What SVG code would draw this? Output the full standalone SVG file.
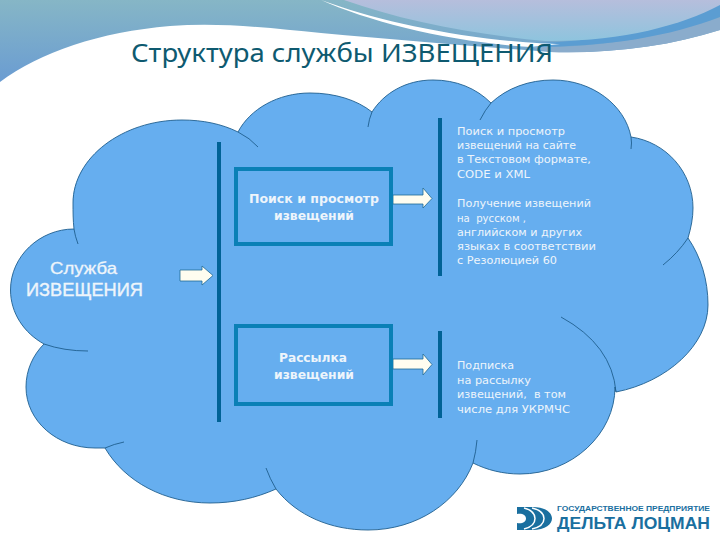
<svg xmlns="http://www.w3.org/2000/svg" width="720" height="540" viewBox="0 0 720 540">
<style>
.t{font-family:"DejaVu Sans",Verdana,sans-serif;fill:#eef5fb}
.s{font-size:10.5px}
.b{font-size:12.5px;font-weight:bold;text-anchor:middle}
.box{fill:none;stroke:#0a80b6;stroke-width:4}
.bar{stroke:#006296;stroke-width:4;fill:none}
.tail{fill:none;stroke:#1f5f8f;stroke-width:.9}
.arrow{fill:#fffdf0;stroke:#1f6a94;stroke-width:.8}
.logo{font-family:"Liberation Sans",Arial,sans-serif;fill:#1a6f9f;font-weight:bold}
</style>
<defs>
<linearGradient id="gl" x1="0" y1="0" x2="0" y2="1"><stop offset="0" stop-color="#86b6c6"/><stop offset="1" stop-color="#6a9cd2"/></linearGradient>
<linearGradient id="gt" x1="0" y1="0" x2="0" y2="1"><stop offset="0" stop-color="#b6bedc"/><stop offset="1" stop-color="#8ec4de"/></linearGradient>
</defs>
<rect width="720" height="540" fill="#fff"/>
<g id="background">
<path d="M0 0H720V30C670 46 610 54 550 52C470 46 400 40 321 33C270 28 220 22 170 26C100 32 40 52 0 82Z" fill="url(#gl)"/>
<path d="M720 30C670 46 610 54 550 52L530 47C610 48 670 34 720 17Z" fill="#8aaccc"/>
<path d="M720 17C670 36 610 47 530 47L525 43C610 43 670 24 720 3Z" fill="#5b9dd2"/>
<path d="M321 0C370 18 430 32 500 40C530 43 550 44 560 44L530 47C450 42 370 22 321 0Z" fill="#fff"/>
<path d="M344 0C400 20 470 34 545 41C620 42 680 26 720 5V0Z" fill="url(#gt)"/>
</g>
<text id="title" x="131" y="62" font-family="'Noto Sans',sans-serif" font-size="26" fill="#0e5a70" textLength="422" lengthAdjust="spacingAndGlyphs">Структура службы ИЗВЕЩЕНИЯ</text>
<g id="cloud">
<path d="M74 229C40 229 10.500 256 10.500 290C10.500 313 24 333 44 344C33 355 26 370 26 387C26 421 57 448 95 448C98 448 102 448 105 448C125 482 165 503 210 503C234 503 256 498 276 489C297 516 331 530 368 530C417 530 458 502 473 463C487 470 503 474 520 474C572 474 615 434 615 387L616 392C667 382 708 345 708 305C708 280 701 257 688 238C691 228 693 218 693 208C693 172 666 142 631 137C625 105 592 80 553 80C529 80 507 88 491 103C476 88 456 80 433 80C406 80 384 93 372 112C357 100 335 93 310 93C278 93 250 109 238 132C222 124 203 120 182 120C122 120 73 158 73 203C73 212 73 220 74 229Z" fill="#66aeef" stroke="#1f5f8f" stroke-width=".9"/>
<path class="tail" d="M74 229Q75 236 78 244M44 344Q64 351 88 351M105 448Q114 444 124 442M276 489Q270 479 266 468M473 463Q476 452 477 440M616 392Q612 345 561 317M688 238Q678 253 663 265M631 137Q632 143 631 149M491 103Q485 110 480 120M372 112Q369 119 368 127M238 132Q250 138 258 147"/>
</g>
<g id="connectors">
<path class="bar" d="M219 142V422M440 118V276M440 331V418"/>
<path class="arrow" d="M180 270H202V266L213 275.500L202 285V281H180Z"/>
<path class="arrow" d="M393 195H423V188L432 198.500L423 208V204H393Z"/>
<path class="arrow" d="M393 359H423V354L432 364.500L423 375V369H393Z"/>
</g>
<g id="node-service">
<text x="50" y="274" font-family="'Liberation Sans',sans-serif" font-size="17" fill="#eef5fb" stroke="#eef5fb" stroke-width=".3" textLength="67" lengthAdjust="spacingAndGlyphs">Служба</text>
<text x="26" y="296" font-family="'Liberation Sans',sans-serif" font-size="18" fill="#eef5fb" stroke="#eef5fb" stroke-width=".4" textLength="117" lengthAdjust="spacingAndGlyphs">ИЗВЕЩЕНИЯ</text>
</g>
<g id="node-search">
<rect class="box" x="236" y="169" width="155" height="75"/>
<text class="t b" x="314" y="203" textLength="130" lengthAdjust="spacingAndGlyphs">Поиск и просмотр</text>
<text class="t b" x="314" y="220" textLength="80" lengthAdjust="spacingAndGlyphs">извещений</text>
</g>
<g id="node-mail">
<rect class="box" x="236" y="326" width="155" height="78"/>
<text class="t b" x="313" y="362" textLength="68" lengthAdjust="spacingAndGlyphs">Рассылка</text>
<text class="t b" x="314" y="379" textLength="80" lengthAdjust="spacingAndGlyphs">извещений</text>
</g>
<g id="node-search-details">
<text class="t s" x="457" y="135" textLength="108" lengthAdjust="spacingAndGlyphs">Поиск и просмотр</text>
<text class="t s" x="457" y="149" textLength="119" lengthAdjust="spacingAndGlyphs">извещений на сайте</text>
<text class="t s" x="457" y="163" textLength="134" lengthAdjust="spacingAndGlyphs">в Текстовом формате,</text>
<text class="t s" x="457" y="178" textLength="73" lengthAdjust="spacingAndGlyphs">CODE и XML</text>
<text class="t s" x="457" y="207" textLength="134" lengthAdjust="spacingAndGlyphs">Получение извещений</text>
<text class="t s" x="457" y="222" textLength="69" lengthAdjust="spacingAndGlyphs" xml:space="preserve">на  русском ,</text>
<text class="t s" x="457" y="236" textLength="125" lengthAdjust="spacingAndGlyphs">английском и других</text>
<text class="t s" x="457" y="250" textLength="139" lengthAdjust="spacingAndGlyphs">языках в соответствии</text>
<text class="t s" x="457" y="264" textLength="100" lengthAdjust="spacingAndGlyphs">с Резолюцией 60</text>
</g>
<g id="node-mail-details">
<text class="t s" x="457" y="369" textLength="57" lengthAdjust="spacingAndGlyphs">Подписка</text>
<text class="t s" x="457" y="384" textLength="74" lengthAdjust="spacingAndGlyphs">на рассылку</text>
<text class="t s" x="457" y="398" textLength="109" lengthAdjust="spacingAndGlyphs" xml:space="preserve">извещений,  в том</text>
<text class="t s" x="457" y="413" textLength="113" lengthAdjust="spacingAndGlyphs">числе для УКРМЧС</text>
</g>
<g id="logo">
<path d="M517 507H532C546 507 552 513 552 518.500C552 524 546 530 532 530H517V523C522 524 526 522 526 518.500C526 515 522 513 517 514Z" fill="#1a6f9f"/>
<path d="M524 508C532 510 535 514 535 518.500C535 523 532 527 524 529M532 508C541 510 544 514 544 518.500C544 523 541 527 532 529" fill="none" stroke="#fff" stroke-width="1.500"/>
<text class="logo" x="557" y="511" font-size="6.500" textLength="153" lengthAdjust="spacingAndGlyphs">ГОСУДАРСТВЕННОЕ ПРЕДПРИЯТИЕ</text>
<text class="logo" x="557" y="529" font-size="16.500" textLength="153" lengthAdjust="spacingAndGlyphs">ДЕЛЬТА ЛОЦМАН</text>
</g>
</svg>
